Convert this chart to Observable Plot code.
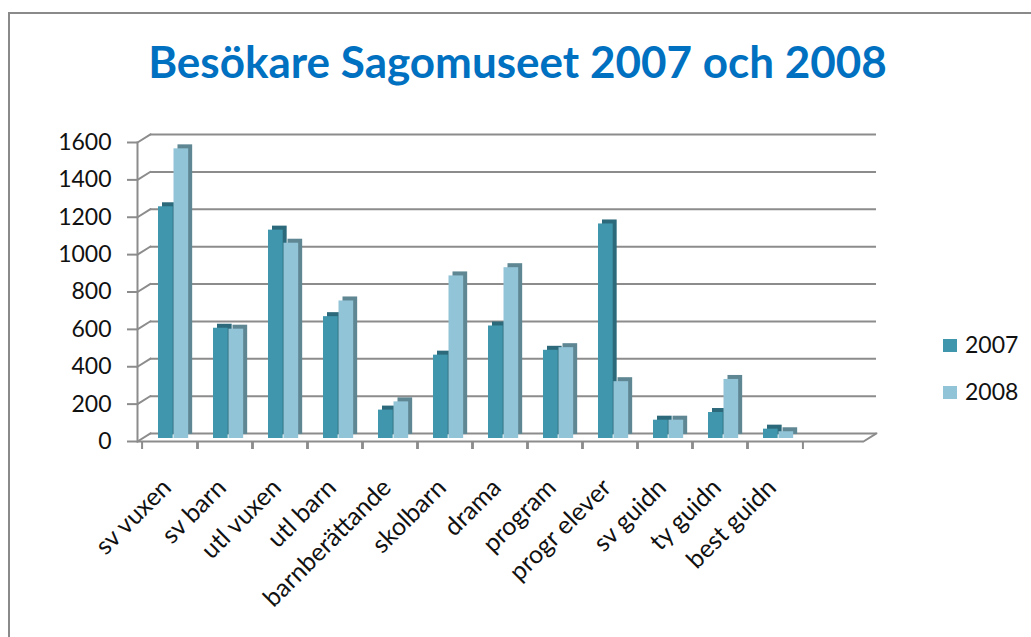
<!DOCTYPE html>
<html><head><meta charset="utf-8">
<script src="https://cdn.jsdelivr.net/npm/d3@7"></script>
<script src="https://cdn.jsdelivr.net/npm/@observablehq/plot@0.6"></script>
<style>
body{margin:0;background:#fff;width:1031px;height:637px;overflow:hidden;position:relative;font-family:Lato,"Open Sans",sans-serif;}
#frame{position:absolute;left:8px;top:12px;width:1040px;height:640px;border:2px solid #8a8a8a;box-sizing:border-box;}
#title{position:absolute;left:0;top:35px;width:1035px;text-align:center;font-weight:bold;font-size:44px;color:#0070c0;letter-spacing:0px;}
#chart{position:absolute;left:0;top:0;}
.leg{position:absolute;left:943px;font-size:23px;color:#111;}
.leg span{display:inline-block;width:14px;height:13px;margin-right:8px;vertical-align:1px;}
</style></head><body>
<div id="frame"></div>
<div id="title">Besökare Sagomuseet 2007 och 2008</div>
<div id="chart"></div>
<div class="leg" style="top:330px"><span style="background:#4097ad"></span>2007</div>
<div class="leg" style="top:377px"><span style="background:#92c4d8"></span>2008</div>
<script>
const categories = ["sv vuxen","sv barn","utl vuxen","utl barn","barnberättande","skolbarn","drama","program","progr elever","sv guidn","ty guidn","best guidn"];
const values2007 = [1240,590,1115,652,152,446,602,472,1148,98,139,50];
const values2008 = [1550,585,1045,736,196,870,914,486,304,98,316,36];
const yTicks = [0,200,400,600,800,1000,1200,1400,1600];

const d07 = categories.map((c,i)=>({cat:c, v:values2007[i]}));
const d08 = categories.map((c,i)=>({cat:c, v:values2008[i]}));

const W = 1031, H = 637, mL = 137, mR = 168, mT = 142, mB = 196;
const step = (W - mL - mR - 56) / categories.length;
const gray = "#8c8c8c";
const stub = {draw(ctx, l){ ctx.moveTo(0,0); ctx.lineTo(0,-l); }};

const chart = Plot.plot({
  width: W, height: H,
  marginLeft: mL, marginRight: mR, marginTop: mT, marginBottom: mB,
  style: {fontFamily: "Lato, 'Open Sans', sans-serif", background: "transparent"},
  x: {domain: categories, padding: 0, insetRight: 56, label: null},
  y: {domain: [0, 1600], label: null},
  marks: [
    // back wall gridlines
    Plot.ruleY(yTicks, {y: d => d, dx: 13, dy: -8, stroke: gray, strokeWidth: 2}),
    // diagonal connectors
    Plot.vector(yTicks, {y: d => d, frameAnchor: "left", anchor: "start", rotate: 58, length: 15.3, shape: stub, stroke: gray, strokeWidth: 2}),
    Plot.vector([0], {y: d => d, frameAnchor: "right", anchor: "start", rotate: 58, length: 15.3, shape: stub, stroke: gray, strokeWidth: 2}),
    // front floor edge
    Plot.ruleY([0], {stroke: gray, strokeWidth: 2}),
    Plot.frame({anchor: "left", stroke: gray, strokeWidth: 2}),
    // bars 2007
    Plot.barY(d07, {x: "cat", y: "v", insetLeft: 16, insetRight: step - 31.5, dx: 4, dy: -7, fill: "#2c6a7b"}),
    Plot.barY(d07, {x: "cat", y: "v", insetLeft: 16, insetRight: step - 31.5, dy: -3, fill: "#4097ad"}),
    // bars 2008
    Plot.barY(d08, {x: "cat", y: "v", insetLeft: 31.5, insetRight: step - 47, dx: 4, dy: -7, fill: "#5f8793"}),
    Plot.barY(d08, {x: "cat", y: "v", insetLeft: 31.5, insetRight: step - 47, dy: -3, fill: "#92c4d8"}),
    // axes
    Plot.axisY(yTicks, {tickSize: 10, tickPadding: 16, fontSize: 23, fill: "#111", stroke: gray, strokeWidth: 2, tickFormat: d => String(d)}),
    Plot.axisX({tickSize: 8, dx: -step/2, tickFormat: () => "", stroke: gray, strokeWidth: 2}),
    Plot.axisX({tickSize: 8, dx: step/2, tickFormat: () => "", stroke: gray, strokeWidth: 2}),
    Plot.axisX({tickSize: 0, tickRotate: -45, tickPadding: 42, dx: -3, fontSize: 25, fill: "#111", textAnchor: "end"})
  ]
});
document.getElementById("chart").appendChild(chart);
</script>
</body></html>
